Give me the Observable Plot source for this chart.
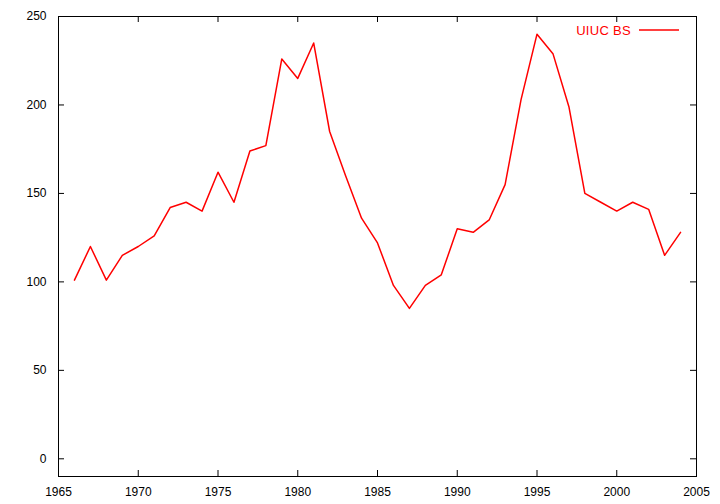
<!DOCTYPE html>
<html>
<head>
<meta charset="utf-8">
<script src="https://cdn.jsdelivr.net/npm/d3@7"></script>
<script src="https://cdn.jsdelivr.net/npm/@observablehq/plot@0.6"></script>
<style>
  html, body { margin: 0; padding: 0; background: #fff; }
  #chart svg { display: block; }
</style>
</head>
<body>
<div id="chart"></div>
<script>
const years = [1966, 1967, 1968, 1969, 1970, 1971, 1972, 1973, 1974, 1975, 1976, 1977, 1978, 1979, 1980, 1981, 1982, 1983, 1984, 1985, 1986, 1987, 1988, 1989, 1990, 1991, 1992, 1993, 1994, 1995, 1996, 1997, 1998, 1999, 2000, 2001, 2002, 2003, 2004];
const uiucBS = [101, 120, 101, 115, 120, 126, 142, 145, 140, 162, 145, 174, 177, 226, 215, 235, 185, 160, 136, 122, 98, 85, 98, 104, 130, 128, 135, 155, 203, 240, 229, 199, 150, 145, 140, 145, 141, 115, 128];
const xTicks = [1965, 1970, 1975, 1980, 1985, 1990, 1995, 2000, 2005];
const yTicks = [0, 50, 100, 150, 200, 250];
const seriesName = "UIUC BS";

const data = years.map((y, i) => ({year: y, value: uiucBS[i]}));

const W = 720, H = 504;
const mL = 58, mR = 24, mT = 16, mB = 28;
const xDomain = [1965, 2005], yDomain = [-10, 250];
const tickLen = 6;
const xPerPx = (xDomain[1] - xDomain[0]) / (W - mL - mR);
const yPerPx = (yDomain[1] - yDomain[0]) / (H - mT - mB);

const legendMark = (index, scales, values, dims) => {
  const g = d3.create("svg:g");
  const right = dims.width - dims.marginRight;
  const yy = dims.marginTop + 14;
  g.append("text")
    .attr("x", right - 65).attr("y", yy).attr("dy", "0.35em")
    .attr("text-anchor", "end")
    .attr("fill", "#ff0000")
    .attr("font-size", 13)
    .attr("letter-spacing", "0.3px")
    .text(seriesName);
  g.append("line")
    .attr("x1", right - 57).attr("x2", right - 17)
    .attr("y1", yy).attr("y2", yy)
    .attr("stroke", "#ff0000").attr("stroke-width", 1.5);
  return g.node();
};

const chart = Plot.plot({
  width: W, height: H,
  marginLeft: mL, marginRight: mR, marginTop: mT, marginBottom: mB,
  style: {fontFamily: "'Liberation Sans', Arial, sans-serif", fontSize: "12px", color: "#000", background: "#fff"},
  x: {domain: xDomain},
  y: {domain: yDomain},
  marks: [
    Plot.axisX({ticks: xTicks, tickSize: 0, tickPadding: 11, tickFormat: d => String(d), label: null, fontSize: 12, style: {letterSpacing: "0.3px"}}),
    Plot.axisY({ticks: yTicks, tickSize: 0, tickPadding: 12, tickFormat: d => String(d), label: null, fontSize: 12, style: {letterSpacing: "0.3px"}}),
    // inward ticks on four sides (gnuplot style)
    Plot.ruleX(xTicks, {y1: yDomain[0], y2: yDomain[0] + tickLen * yPerPx, stroke: "#000", strokeWidth: 1}),
    Plot.ruleX(xTicks, {y1: yDomain[1], y2: yDomain[1] - tickLen * yPerPx, stroke: "#000", strokeWidth: 1}),
    Plot.ruleY(yTicks, {x1: xDomain[0], x2: xDomain[0] + tickLen * xPerPx, stroke: "#000", strokeWidth: 1}),
    Plot.ruleY(yTicks, {x1: xDomain[1], x2: xDomain[1] - tickLen * xPerPx, stroke: "#000", strokeWidth: 1}),
    Plot.line(data, {x: "year", y: "value", stroke: "#ff0000", strokeWidth: 1.5}),
    Plot.frame({stroke: "#000", strokeWidth: 1}),
    legendMark
  ]
});
document.getElementById("chart").appendChild(chart);
</script>
</body>
</html>
